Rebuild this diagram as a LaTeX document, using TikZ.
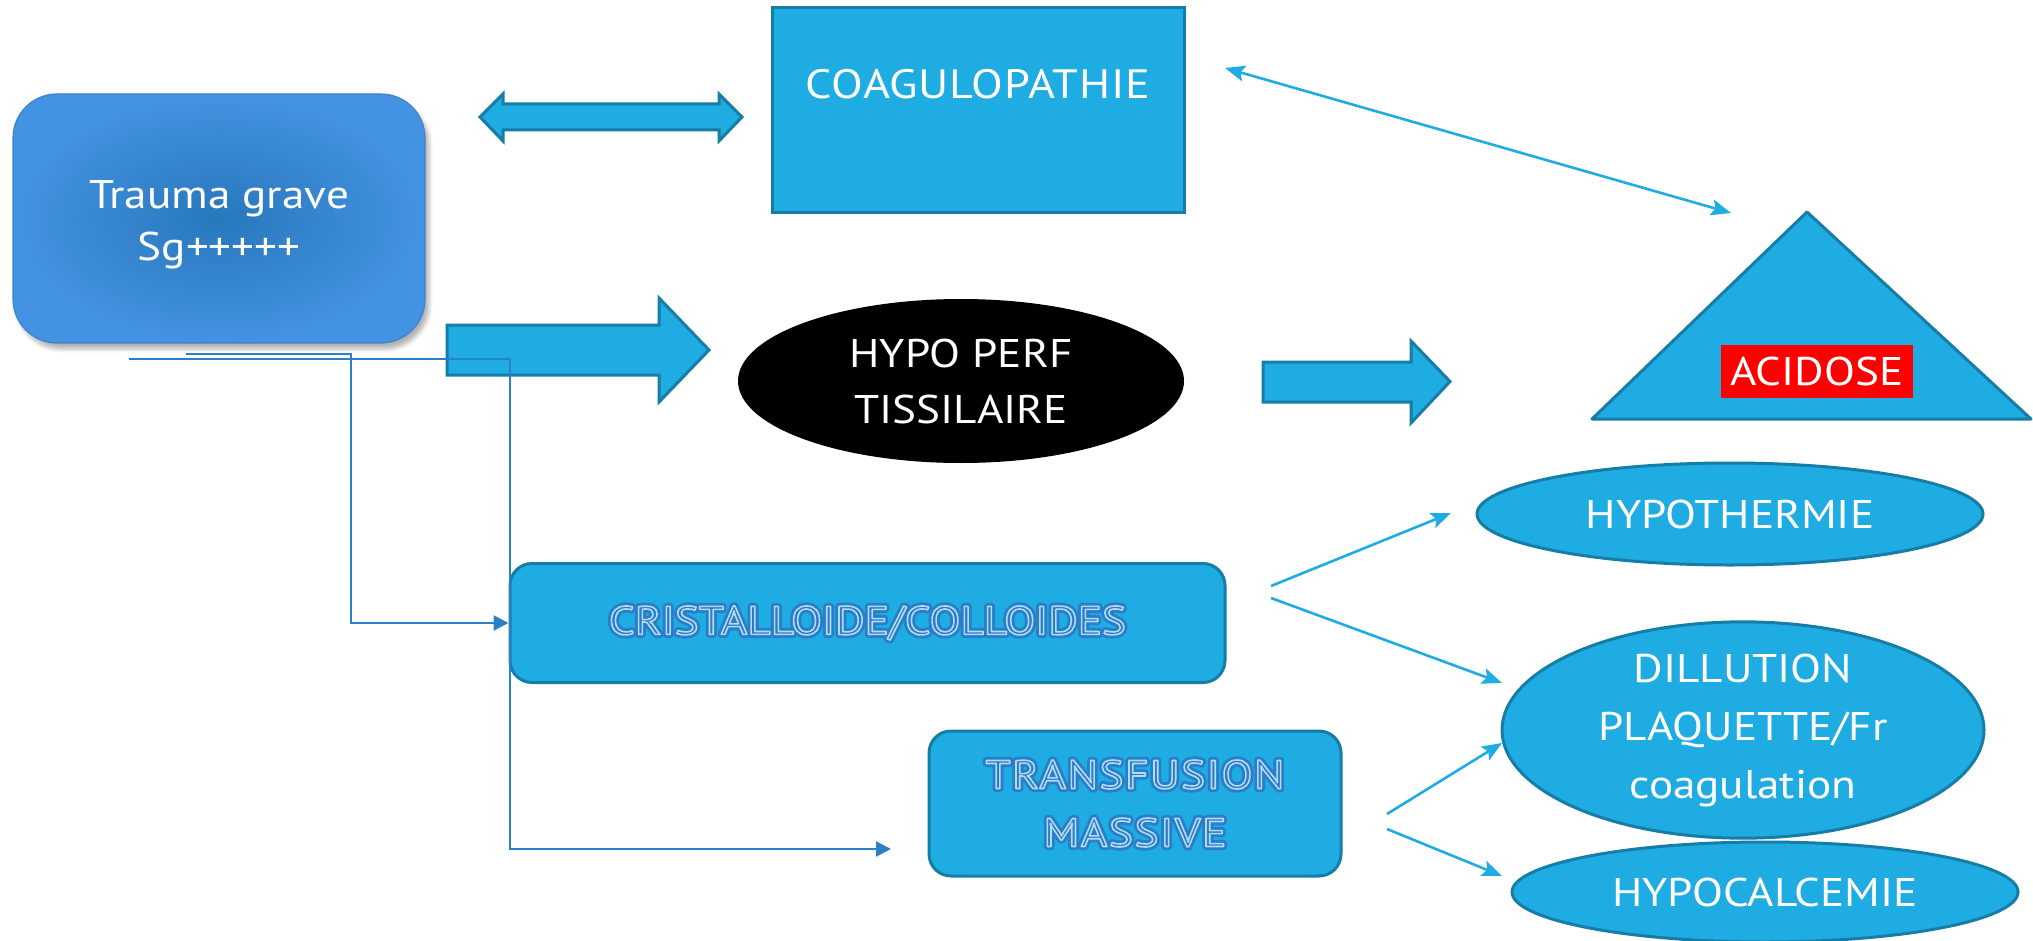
\documentclass[tikz,border=0pt]{standalone}
\usepackage{fontspec}
\setmainfont[FakeStretch=1.13]{PT Sans}
\usetikzlibrary{shapes.geometric,arrows.meta,shadows.blur}
\definecolor{lb}{RGB}{31,172,226}
\definecolor{bd}{RGB}{22,125,166}
\definecolor{cn}{RGB}{44,128,198}
\definecolor{tin}{RGB}{40,120,188}
\definecolor{tout}{RGB}{68,146,226}
\definecolor{pale}{RGB}{180,218,244}
\definecolor{ohalo}{RGB}{40,126,200}
\tikzset{
  txt/.style={text=white,align=center,font=\fontsize{20}{28}\selectfont},
  blk/.style={fill=lb,draw=bd,line width=1.5pt},
  ell/.style={ellipse,blk,inner sep=0pt,txt},
  rbox/.style={rectangle,rounded corners=11pt,blk,inner sep=0pt,align=center,font=\fontsize{20}{29}\selectfont},
  conn/.style={draw=cn,line width=1.2pt,-{Triangle[length=7.5pt,width=7.5pt]}},
  thin/.style={draw=lb,line width=1.3pt,-{Stealth[length=10pt,width=8pt,inset=2pt]}},
  thinb/.style={draw=lb,line width=1.3pt,{Stealth[length=10pt,width=8pt,inset=2pt]}-{Stealth[length=10pt,width=8pt,inset=2pt]}},
}
\newcommand{\outl}[1]{\setbox0=\hbox{#1}%
  \rlap{\special{pdf:literal direct 2 Tr 3.6 w 1 j}\color{ohalo}#1\special{pdf:literal direct 0 Tr}}%
  \rlap{\special{pdf:literal direct 1 Tr 0.8 w 1 j}\color{pale}#1\special{pdf:literal direct 0 Tr}}%
  \hbox to\wd0{}}
\begin{document}
\begin{tikzpicture}[x=0.5pt,y=-0.5pt]
\useasboundingbox (0,0) rectangle (2033,941);
% Trauma box
\node[rectangle,rounded corners=22pt,minimum width=206pt,minimum height=124.5pt,
  inner color=tin,outer color=tout,draw=tout!90!black,line width=0.6pt,
  blur shadow={shadow xshift=2pt,shadow yshift=-3pt,shadow blur steps=6,shadow opacity=30}] (trauma) at (219,218.5) {};
\node[txt,font=\fontsize{20}{26}\selectfont] (traumat) at (219,225) {Trauma grave\\Sg+++++};
% double block arrow
\draw[blk] (480,117) -- (503,94) -- (503,104) -- (719,104) -- (719,94) -- (742,117)
  -- (719,141) -- (719,130) -- (503,130) -- (503,141) -- cycle;
% coagulopathie
\node[rectangle,blk,minimum width=206pt,minimum height=102.5pt] (coag) at (978,110.5) {};
\node[txt,font=\fontsize{20.5}{28}\selectfont\addfontfeature{LetterSpace=2}] (coagt) at (978,84) {COAGULOPATHIE};
% triangle + acidose
\draw[blk,line join=round] (1807,212) -- (2031,419) -- (1592,419) -- cycle;
\coordinate (apex) at (1807,212);
\node[rectangle,fill=red,minimum width=96pt,minimum height=26.5pt,inner sep=0pt,txt] (acid) at (1817,371.5) {ACIDOSE};
% thin double arrow
\coordinate (ca) at (1225,68);
\coordinate (cb) at (1731,213);
\draw[thinb] (ca) -- (cb);
% big arrow 1
\draw[blk] (447,325) -- (659,325) -- (659,298) -- (709,350) -- (659,402) -- (659,375) -- (447,375) -- cycle;
% hypo perf
\node[ellipse,fill=black,minimum width=223pt,minimum height=82pt,inner sep=0pt,txt] (perf) at (961,381) {HYPO PERF\\TISSILAIRE};
% big arrow 2
\draw[blk] (1263,362) -- (1411,362) -- (1411,341) -- (1450,381.5) -- (1411,423) -- (1411,402) -- (1263,402) -- cycle;
% right ellipses
\node[ell,minimum width=253pt,minimum height=51pt] (hth) at (1730,514) {HYPOTHERMIE};
\node[ell,minimum width=241pt,minimum height=87pt,font=\fontsize{20}{29}\selectfont] (dil) at (1743,730) {DILLUTION\\PLAQUETTE/Fr\\coagulation};
\node[ell,minimum width=253pt,minimum height=50pt] (hca) at (1765,892) {HYPOCALCEMIE};
% boxes
\node[rbox,minimum width=357.5pt,minimum height=59.5pt] (cris) at (867.5,623) {\outl{CRISTALLOIDE/COLLOIDES}};
\node[rbox,minimum width=206pt,minimum height=72.5pt,font=\fontsize{20}{29}\selectfont\addfontfeature{LetterSpace=4}] (trans) at (1135,803.5) {\outl{TRANSFUSION}\\\outl{MASSIVE}};
% left connectors
\coordinate (b0) at (186,354);
\coordinate (a0) at (129,359);
\coordinate (a1) at (891,849);
\draw[conn] (b0) -- (351,354) |- (cris.west);
\draw[conn] (a0) -- (510,359) |- (a1);
% right thin arrows
\coordinate (c1s) at (1271,586);
\coordinate (c1e) at (1451,513);
\coordinate (c2s) at (1271,598);
\coordinate (c2e) at (1502,683);
\coordinate (t1s) at (1387,814);
\coordinate (t1e) at (1502,743);
\coordinate (t2s) at (1387,829);
\coordinate (t2e) at (1502,876);
\draw[thin] (c1s) -- (c1e);
\draw[thin] (c2s) -- (c2e);
\draw[thin] (t1s) -- (t1e);
\draw[thin] (t2s) -- (t2e);
\end{tikzpicture}
\end{document}
